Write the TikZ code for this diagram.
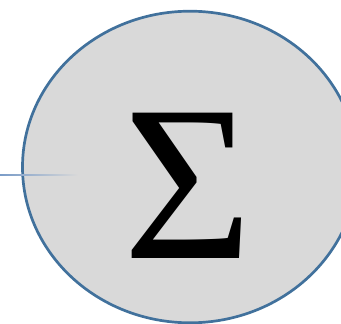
\documentclass[tikz,border=0pt]{standalone}
\usepackage{fontspec}
\setmainfont{Liberation Serif}
\usetikzlibrary{shapes.geometric,calc}
\definecolor{ringblue}{HTML}{41719C}
\definecolor{fillgray}{HTML}{D9D9D9}
\definecolor{wireblue}{HTML}{7A9CC8}
\tikzset{
  sumnode/.style={ellipse, draw=ringblue, fill=fillgray, line width=2.7pt,
    minimum width=335pt, minimum height=311.6pt, inner sep=0pt},
  sigma/.style={inner sep=0pt, font=\fontsize{222}{222}\selectfont},
  wire/.style={left color=wireblue, right color=fillgray}
}
\begin{document}
\begin{tikzpicture}[x=1pt, y=-1pt]
\useasboundingbox (0,0) rectangle (341,324);
\clip (0,0) rectangle (341,324);
\node[sumnode] (sum) at (190,167) {};
\node[sigma] (sig) at (188.5,186) {Σ};
\coordinate (in) at (0,175);
\coordinate (inend) at (78,175);
\shade[wire] ($(in)+(0,-0.55)$) rectangle ($(inend)+(0,0.55)$);
\end{tikzpicture}
\end{document}
